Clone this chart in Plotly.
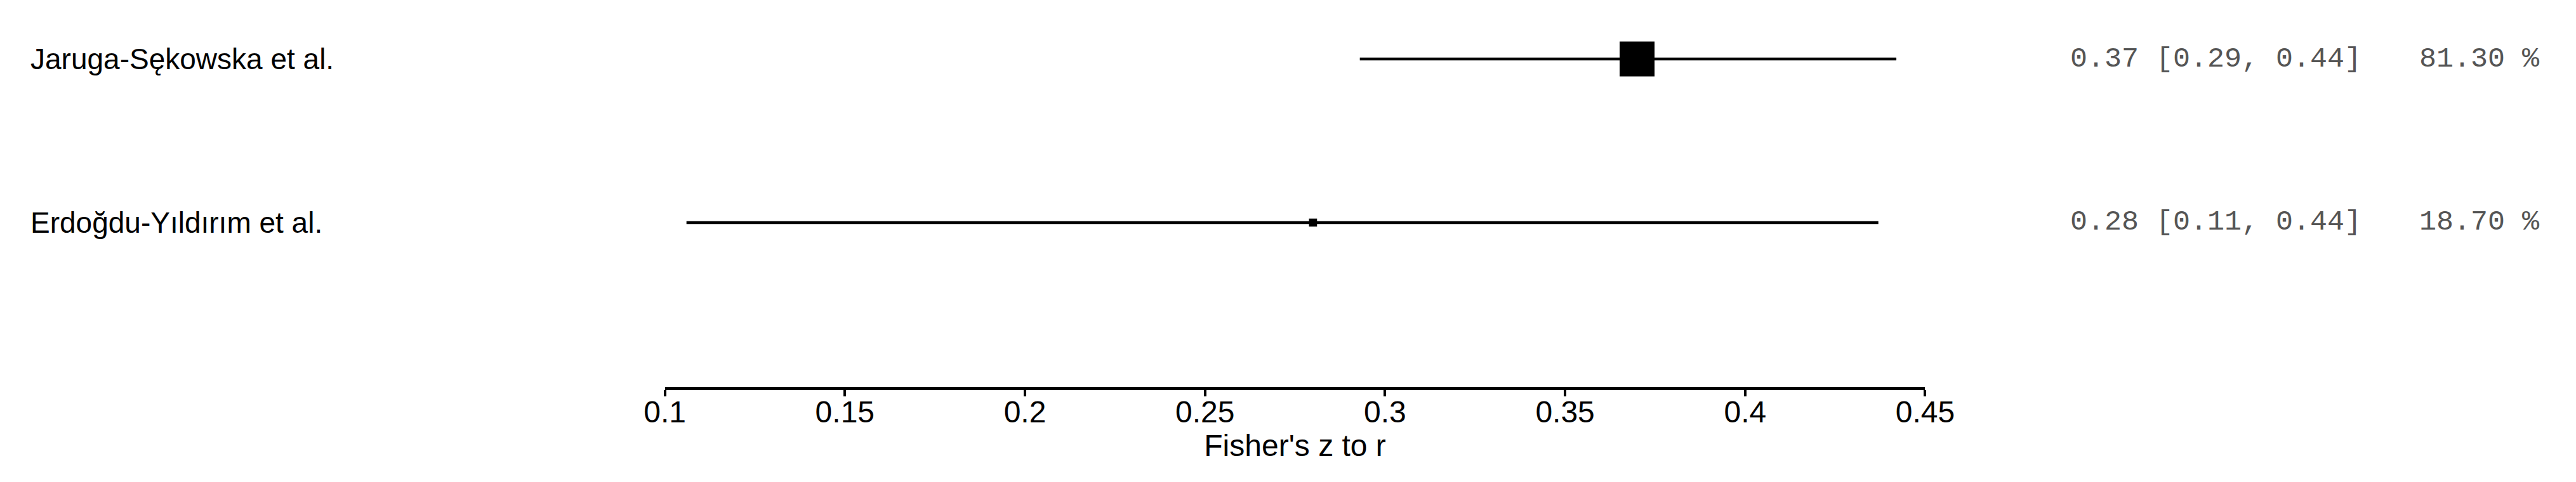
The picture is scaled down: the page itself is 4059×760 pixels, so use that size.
import plotly.graph_objects as go

# study rows, top to bottom
studies = ["Jaruga-Sękowska et al.", "Erdoğdu-Yıldırım et al."]
rows = [2, 1]
estimates = [0.370, 0.280]
ci_lower = [0.293, 0.106]
ci_upper = [0.442, 0.437]
weights = [81.30, 18.70]

tick_vals = [0.1, 0.15, 0.2, 0.25, 0.3, 0.35, 0.4, 0.45]
tick_text = ["0.1", "0.15", "0.2", "0.25", "0.3", "0.35", "0.4", "0.45"]
x_title = "Fisher's z to r"

# page body has an 8px margin, so keep the figure inside the 4059x760 window
PAD = 8
W, H = 4059 - 2 * PAD, 760 - 2 * PAD
SANS = "Liberation Sans, Arial, sans-serif"
MONO = "Liberation Mono, Courier New, monospace"


def px(x):
    # target screen pixel -> paper fraction (calibrated against the capture)
    page_x = (x - 34) / 0.9788
    return (page_x - PAD) / W


fig = go.Figure()

# confidence interval lines
for r, lo, hi in zip(rows, ci_lower, ci_upper):
    fig.add_trace(go.Scatter(x=[lo, hi], y=[r, r], mode="lines",
                             line=dict(color="black", width=4.5),
                             hoverinfo="skip", showlegend=False))

# point estimates, square size by weight
max_w = max(weights)
fig.add_trace(go.Scatter(
    x=estimates, y=rows, mode="markers",
    marker=dict(symbol="square", color="black", opacity=1,
                size=[55 * w / max_w for w in weights],
                line=dict(width=0)),
    showlegend=False))

# left labels and right text columns
for name, r, e, lo, hi, w in zip(studies, rows, estimates, ci_lower, ci_upper, weights):
    fig.add_annotation(x=px(47), y=r, xref="paper", yref="y", text=name,
                       showarrow=False, xanchor="left", yanchor="middle",
                       font=dict(family=SANS, size=46, color="black"))
    fig.add_annotation(x=px(3256), y=r, xref="paper", yref="y",
                       text=f"{e:.2f} [{lo:.2f}, {hi:.2f}]",
                       showarrow=False, xanchor="left", yanchor="middle",
                       font=dict(family=MONO, size=45, color="#555555"))
    fig.add_annotation(x=px(3999), y=r, xref="paper", yref="y",
                       text=f"{w:.2f} %",
                       showarrow=False, xanchor="right", yanchor="middle",
                       font=dict(family=MONO, size=45, color="#555555"))

fig.update_layout(
    width=W, height=H, autosize=False,
    margin=dict(l=0, r=0, t=0, b=H - (610 - PAD)),
    plot_bgcolor="white", paper_bgcolor="white",
    xaxis=dict(domain=[px(1047), px(3030)], range=[0.1, 0.45],
               tickvals=tick_vals, ticktext=tick_text,
               showgrid=False, zeroline=False,
               showline=True, linecolor="black", linewidth=4.5,
               ticks="outside", ticklen=10, tickwidth=3.5, tickcolor="black",
               ticklabelstandoff=-16,
               tickfont=dict(family=SANS, size=48, color="black"),
               title=dict(text=x_title, standoff=6,
                          font=dict(family=SANS, size=48, color="black"))),
    yaxis=dict(range=[-0.004, 2 + (85) / 258], visible=False, fixedrange=True),
)

fig.write_html("out.html")
